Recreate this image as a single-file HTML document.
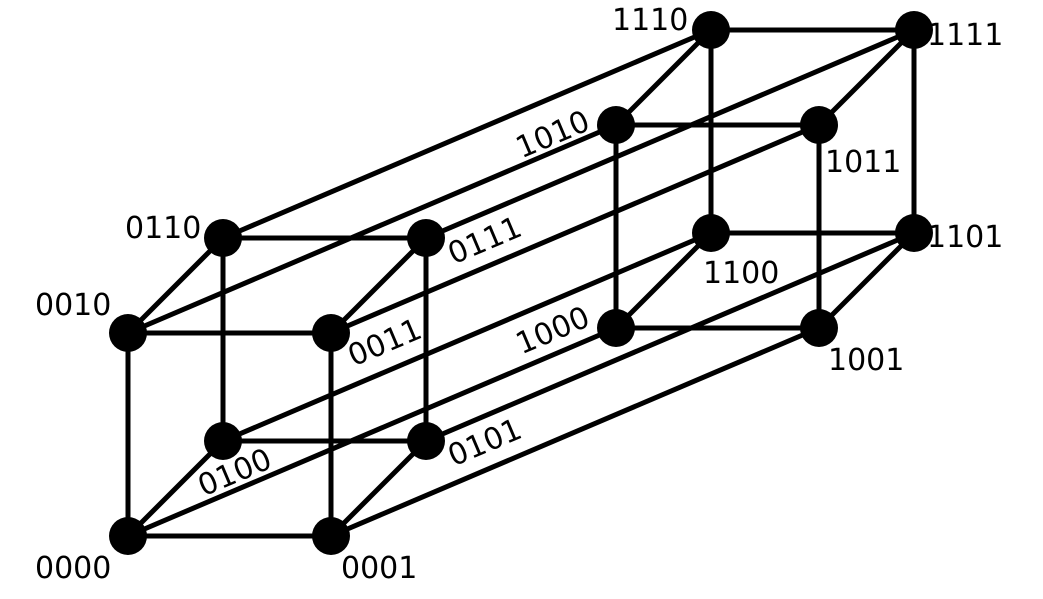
<!DOCTYPE html>
<html><head><meta charset="utf-8"><style>
html,body{margin:0;padding:0;background:#fff;}
svg{display:block;}
text{font-family:"DejaVu Sans","Liberation Sans",sans-serif;font-size:30px;fill:#000;}
</style></head><body>
<svg id="chart" width="1043" height="599" viewBox="0 0 1043 599">
<g id="edges"></g>
<g id="nodes"></g>
<g id="labels"></g>
</svg>
<script>
const nodeLabels = ["0000","0001","0010","0011","0100","0101","0110","0111","1000","1001","1010","1011","1100","1101","1110","1111"];
const origin = [128,536];
const bitSteps = [[203,0],[0,-203],[95,-95],[488,-208]];
const labelPlain = {"0000":[35,578],"0001":[341,578],"0010":[35,315],"0110":[125,238],"1110":[612,30],"1111":[927,45],"1011":[825,172],"1101":[927,247],"1100":[703,283],"1001":[828,370]};
const labelRotated = {"0100":[235,473],"0011":[385,343],"0111":[485,241],"0101":[485,443],"1010":[553,135],"1000":[553,331]};
const NS="http://www.w3.org/2000/svg";
function pos(lbl){
  let x=origin[0],y=origin[1];
  for(let b=0;b<4;b++){ if(lbl[3-b]==="1"){x+=bitSteps[b][0];y+=bitSteps[b][1];} }
  return [x,y];
}
const eg=document.getElementById('edges'),ng=document.getElementById('nodes'),lg=document.getElementById('labels');
nodeLabels.forEach((a,i)=>{
  for(let b=0;b<4;b++){
    const j=i^(1<<b);
    if(j>i){
      const p=pos(a),q=pos(nodeLabels[j]);
      const l=document.createElementNS(NS,'line');
      l.setAttribute('x1',p[0]);l.setAttribute('y1',p[1]);l.setAttribute('x2',q[0]);l.setAttribute('y2',q[1]);
      l.setAttribute('stroke','#000');l.setAttribute('stroke-width','5');
      
      
      eg.appendChild(l);
    }
  }
});
nodeLabels.forEach(a=>{
  const p=pos(a);
  const c=document.createElementNS(NS,'circle');
  c.setAttribute('cx',p[0]);c.setAttribute('cy',p[1]);c.setAttribute('r','19');c.setAttribute('fill','#000');
  
  
  ng.appendChild(c);
  const t=document.createElementNS(NS,'text');
  t.textContent=a;
  if(labelRotated[a]){
    const r=labelRotated[a];
    t.setAttribute('x',r[0]);t.setAttribute('y',r[1]);
    t.setAttribute('text-anchor','middle');t.setAttribute('dominant-baseline','central');
    t.setAttribute('transform','rotate(-23 '+r[0]+' '+r[1]+')');
  } else {
    const r=labelPlain[a];
    t.setAttribute('x',r[0]);t.setAttribute('y',r[1]);
  }
  
  
  lg.appendChild(t);
});
</script>
</body></html>
